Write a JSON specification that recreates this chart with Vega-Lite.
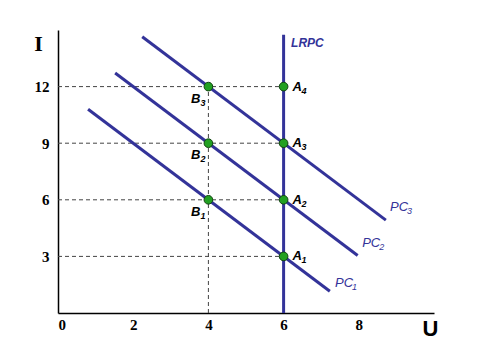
{
  "$schema": "https://vega.github.io/schema/vega-lite/v6.json",
  "width": 376,
  "height": 283,
  "autosize": {"type": "none"},
  "padding": {"left": 58, "top": 30, "right": 47, "bottom": 48},
  "background": "white",
  "config": {"view": {"stroke": null}},
  "datasets": {
    "guides": [
      {"g": "h12", "u": 0, "i": 12}, {"g": "h12", "u": 6, "i": 12},
      {"g": "h9", "u": 0, "i": 9}, {"g": "h9", "u": 6, "i": 9},
      {"g": "h6", "u": 0, "i": 6}, {"g": "h6", "u": 6, "i": 6},
      {"g": "h3", "u": 0, "i": 3}, {"g": "h3", "u": 6, "i": 3},
      {"g": "v4", "u": 4, "i": 0}, {"g": "v4", "u": 4, "i": 12}
    ],
    "curves": [
      {"curve": "PC1", "u": 0.8, "i": 10.8}, {"curve": "PC1", "u": 7.23, "i": 1.15},
      {"curve": "PC2", "u": 1.52, "i": 12.72}, {"curve": "PC2", "u": 7.97, "i": 3.05},
      {"curve": "PC3", "u": 2.24, "i": 14.64}, {"curve": "PC3", "u": 8.72, "i": 4.92},
      {"curve": "LRPC", "u": 6, "i": 0}, {"curve": "LRPC", "u": 6, "i": 14.75}
    ],
    "points": [
      {"letter": "A", "sub": "1", "u": 6, "i": 3},
      {"letter": "A", "sub": "2", "u": 6, "i": 6},
      {"letter": "A", "sub": "3", "u": 6, "i": 9},
      {"letter": "A", "sub": "4", "u": 6, "i": 12},
      {"letter": "B", "sub": "1", "u": 4, "i": 6},
      {"letter": "B", "sub": "2", "u": 4, "i": 9},
      {"letter": "B", "sub": "3", "u": 4, "i": 12}
    ],
    "curveLabels": [
      {"label": "PC", "sub": "1", "u": 7.37, "i": 1.6},
      {"label": "PC", "sub": "2", "u": 8.09, "i": 3.7},
      {"label": "PC", "sub": "3", "u": 8.83, "i": 5.6}
    ],
    "lrpc": [
      {"label": "LRPC", "u": 6.2, "i": 14.3}
    ]
  },
  "layer": [
    {
      "data": {"name": "guides"},
      "mark": {"type": "line", "color": "#444444", "strokeWidth": 1, "strokeDash": [4, 3]},
      "encoding": {
        "x": {
          "field": "u", "type": "quantitative",
          "scale": {"domain": [0, 10], "nice": false},
          "axis": {
            "values": [0, 2, 4, 6, 8], "ticks": false, "grid": false,
            "domainColor": "#000000", "domainWidth": 1.5,
            "labelFont": "Liberation Serif", "labelFontWeight": "bold", "labelFontSize": 15,
            "labelColor": "#000000", "labelPadding": 4,
            "title": "U", "titleFont": "Liberation Sans", "titleFontWeight": "bold", "titleFontSize": 22,
            "titleColor": "#000000", "titleX": 372, "titleY": 15, "titleBaseline": "middle", "titleAlign": "center"
          }
        },
        "y": {
          "field": "i", "type": "quantitative",
          "scale": {"domain": [0, 15], "nice": false},
          "axis": {
            "values": [3, 6, 9, 12], "ticks": false, "grid": false,
            "domainColor": "#000000", "domainWidth": 1.5,
            "labelFont": "Liberation Serif", "labelFontWeight": "bold", "labelFontSize": 15,
            "labelColor": "#000000", "labelPadding": 9,
            "title": "I", "titleFont": "Liberation Serif", "titleFontWeight": "bold", "titleFontSize": 22,
            "titleColor": "#000000", "titleAngle": 0, "titleX": -20, "titleY": 13,
            "titleBaseline": "middle", "titleAlign": "center"
          }
        },
        "detail": {"field": "g"}
      }
    },
    {
      "data": {"name": "curves"},
      "mark": {"type": "line", "color": "#333399", "strokeWidth": 3},
      "encoding": {
        "x": {"field": "u", "type": "quantitative"},
        "y": {"field": "i", "type": "quantitative"},
        "detail": {"field": "curve"}
      }
    },
    {
      "data": {"name": "points"},
      "mark": {"type": "point", "filled": true, "fill": "#22a022", "stroke": "#114411", "strokeWidth": 1, "size": 75, "opacity": 1},
      "encoding": {
        "x": {"field": "u", "type": "quantitative"},
        "y": {"field": "i", "type": "quantitative"}
      }
    },
    {
      "data": {"name": "points"},
      "transform": [{"filter": "datum.letter === 'A'"}],
      "mark": {"type": "text", "align": "left", "baseline": "middle", "dx": 9, "dy": 0,
               "font": "Liberation Sans", "fontStyle": "italic", "fontWeight": "bold", "fontSize": 13, "color": "#000000"},
      "encoding": {
        "x": {"field": "u", "type": "quantitative"},
        "y": {"field": "i", "type": "quantitative"},
        "text": {"field": "letter"}
      }
    },
    {
      "data": {"name": "points"},
      "transform": [{"filter": "datum.letter === 'A'"}],
      "mark": {"type": "text", "align": "left", "baseline": "middle", "dx": 18, "dy": 4,
               "font": "Liberation Sans", "fontStyle": "italic", "fontWeight": "bold", "fontSize": 9, "color": "#000000"},
      "encoding": {
        "x": {"field": "u", "type": "quantitative"},
        "y": {"field": "i", "type": "quantitative"},
        "text": {"field": "sub"}
      }
    },
    {
      "data": {"name": "points"},
      "transform": [{"filter": "datum.letter === 'B'"}],
      "mark": {"type": "text", "align": "right", "baseline": "middle", "dx": -8, "dy": 12,
               "font": "Liberation Sans", "fontStyle": "italic", "fontWeight": "bold", "fontSize": 13, "color": "#000000"},
      "encoding": {
        "x": {"field": "u", "type": "quantitative"},
        "y": {"field": "i", "type": "quantitative"},
        "text": {"field": "letter"}
      }
    },
    {
      "data": {"name": "points"},
      "transform": [{"filter": "datum.letter === 'B'"}],
      "mark": {"type": "text", "align": "right", "baseline": "middle", "dx": -3, "dy": 16,
               "font": "Liberation Sans", "fontStyle": "italic", "fontWeight": "bold", "fontSize": 9, "color": "#000000"},
      "encoding": {
        "x": {"field": "u", "type": "quantitative"},
        "y": {"field": "i", "type": "quantitative"},
        "text": {"field": "sub"}
      }
    },
    {
      "data": {"name": "curveLabels"},
      "mark": {"type": "text", "align": "left", "baseline": "middle",
               "font": "Liberation Sans", "fontStyle": "italic", "fontSize": 13, "color": "#333399"},
      "encoding": {
        "x": {"field": "u", "type": "quantitative"},
        "y": {"field": "i", "type": "quantitative"},
        "text": {"field": "label"}
      }
    },
    {
      "data": {"name": "curveLabels"},
      "mark": {"type": "text", "align": "left", "baseline": "middle", "dx": 17, "dy": 4,
               "font": "Liberation Sans", "fontStyle": "italic", "fontSize": 9, "color": "#333399"},
      "encoding": {
        "x": {"field": "u", "type": "quantitative"},
        "y": {"field": "i", "type": "quantitative"},
        "text": {"field": "sub"}
      }
    },
    {
      "data": {"name": "lrpc"},
      "mark": {"type": "text", "align": "left", "baseline": "middle",
               "font": "Liberation Sans", "fontStyle": "italic", "fontWeight": "bold", "fontSize": 12, "color": "#333399"},
      "encoding": {
        "x": {"field": "u", "type": "quantitative"},
        "y": {"field": "i", "type": "quantitative"},
        "text": {"field": "label"}
      }
    }
  ]
}
